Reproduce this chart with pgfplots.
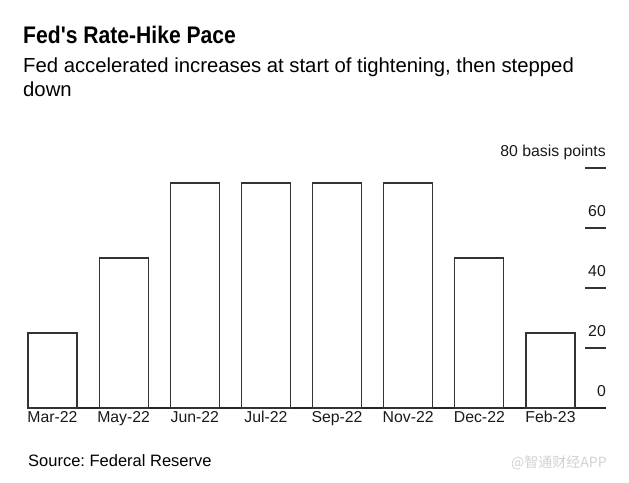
\documentclass[border=0pt]{standalone}
\usepackage{fontspec}
\setmainfont{Liberation Sans}
\newfontfamily\titlefont[FakeStretch=0.88]{Liberation Sans Bold}
\newfontfamily\cjk{Noto Sans CJK SC}
\usepackage{pgfplots}
\pgfplotsset{compat=1.18}
\frenchspacing

\begin{document}
\begin{tikzpicture}
\useasboundingbox (0,0) rectangle (629pt,-482pt);

% titles
\node[anchor=base west, inner sep=0pt] at (23pt,-43.5pt) {\fontsize{24}{28}\selectfont\titlefont Fed's Rate-Hike Pace};
\node[anchor=base west, inner sep=0pt] at (23pt,-72.7pt) {\fontsize{20.3}{24}\selectfont Fed accelerated increases at start of tightening, then stepped};
\node[anchor=base west, inner sep=0pt] at (23pt,-96.7pt) {\fontsize{20.3}{24}\selectfont down};

\begin{axis}[
  at={(28pt,-408pt)}, anchor=south west,
  scale only axis,
  width=578pt, height=240pt,
  xmin=-0.344, xmax=7.78,
  ymin=0, ymax=80,
  ybar, bar width=49pt,
  axis x line=bottom, axis y line=right,
  x axis line style={-, draw=black!85, line width=1.2pt},
  y axis line style={draw=none},
  xtick={0,...,7},
  xticklabels={Mar-22,May-22,Jun-22,Jul-22,Sep-22,Nov-22,Dec-22,Feb-23},
  x tick style={draw=none},
  ytick={0,20,40,60,80},
  yticklabels={0,20,40,60,80 basis points},
  y tick style={draw=black!80, line width=1.1pt},
  tick align=inside,
  major tick length=21pt,
  ticklabel style={font=\fontsize{15.8}{19}\selectfont, text=black!90},
  yticklabel style={anchor=base east, inner sep=0pt, yshift=12pt},
  /pgf/number format/assume math mode=true,
  clip=false,
]
\addplot[fill=white, draw=black!80, line width=1.1pt] coordinates {
  (0,25) (1,50) (2,75) (3,75) (4,75) (5,75) (6,50) (7,25)
};
\end{axis}

\node[anchor=base west, inner sep=0pt] at (28pt,-466pt) {\fontsize{16.5}{20}\selectfont Source: Federal Reserve};
\node[anchor=base west, inner sep=0pt, text=black!18] at (511pt,-467pt) {\fontsize{14}{16}\selectfont\cjk @智通财经APP};
\end{tikzpicture}
\end{document}
